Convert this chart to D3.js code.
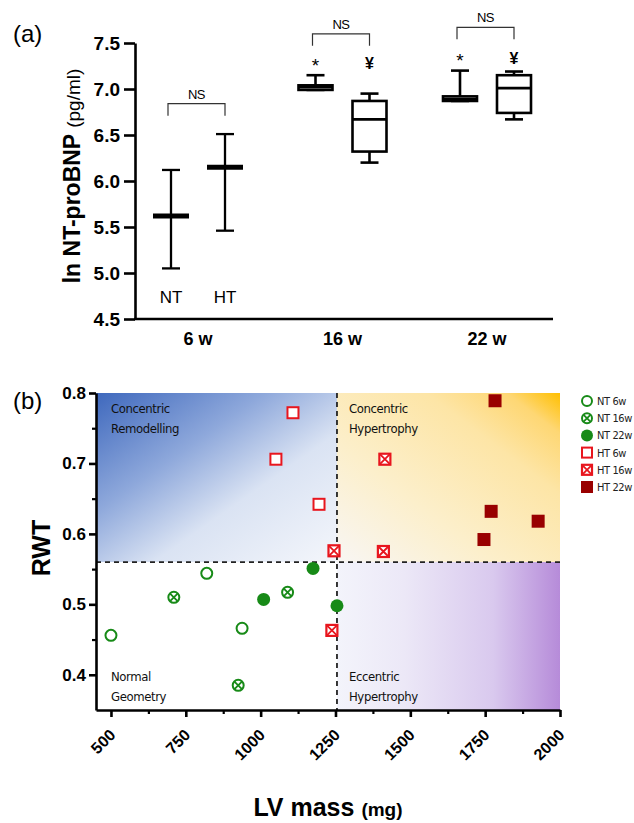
<!DOCTYPE html>
<html>
<head>
<meta charset="utf-8">
<script src="https://cdn.jsdelivr.net/npm/d3@7"></script>
<style>
  body { margin: 0; background: #fff; }
  text { font-family: "Liberation Sans", Arial, sans-serif; }
  .narrow { font-family: "Liberation Sans Narrow", "DejaVu Sans Condensed", "Liberation Sans", sans-serif; letter-spacing: -0.4px; }
</style>
</head>
<body>
<script>
// ---------- panel (a) data ----------
var weeks = ["6 w", "16 w", "22 w"];
// NT group (6 w is mean with range, the others are box plots)
var ntMin = [5.05, 6.99, 6.87];
var ntQ1  = [null, 6.99, 6.87];
var ntMid = [5.62, 7.02, 6.89];
var ntQ3  = [null, 7.04, 6.92];
var ntMax = [6.12, 7.15, 7.20];
// HT group
var htMin = [5.46, 6.20, 6.67];
var htQ1  = [null, 6.32, 6.74];
var htMid = [6.15, 6.67, 7.01];
var htQ3  = [null, 6.87, 7.15];
var htMax = [6.51, 6.95, 7.19];
var ntSig = ["", "*", "*"];
var htSig = ["", "\u00a5", "\u00a5"];
var sigLevel = [null, 7.29, 7.35];
var nsLevel = [6.84, 7.60, 7.67];
var yTicksA = [4.5, 5.0, 5.5, 6.0, 6.5, 7.0, 7.5];

// ---------- panel (b) data ----------
var seriesNames = ["NT 6w", "NT 16w", "NT 22w", "HT 6w", "HT 16w", "HT 22w"];
var nt6Mass  = [500, 820, 938];
var nt6Rwt   = [0.456, 0.544, 0.466];
var nt16Mass = [710, 1090, 925];
var nt16Rwt  = [0.510, 0.517, 0.385];
var nt22Mass = [1010, 1175, 1255];
var nt22Rwt  = [0.507, 0.551, 0.498];
var ht6Mass  = [1108, 1051, 1195];
var ht6Rwt   = [0.772, 0.706, 0.642];
var ht16Mass = [1245, 1410, 1415, 1238];
var ht16Rwt  = [0.576, 0.575, 0.706, 0.463];
var ht22Mass = [1783, 1770, 1927, 1746];
var ht22Rwt  = [0.789, 0.632, 0.618, 0.592];
var massCut = 1255;
var rwtCut = 0.56;
var xTicksB = [500, 750, 1000, 1250, 1500, 1750, 2000];
var xMinorB = [625, 875, 1125, 1375, 1625, 1875];
var yTicksB = [0.4, 0.5, 0.6, 0.7, 0.8];
var yMinorB = [0.45, 0.55, 0.65, 0.75];

var green = "#178a17", red = "#e8161e", darkRed = "#990000";

var svg = d3.select("body").append("svg")
  .attr("width", 634)
  .attr("height", 823);

// ================= panel (a) =================
var gA = svg.append("g");
var yA = d3.scaleLinear().domain([4.5, 7.5]).range([319, 43]);
var xA = d3.scalePoint().domain(weeks).range([198, 487]);
var sub = d3.scaleOrdinal().domain(["NT", "HT"]).range([-27, 27]);

gA.append("text").attr("x", 13).attr("y", 42)
  .style("font-size", "24px").text("(a)");

var axA = gA.append("g")
  .attr("transform", "translate(135,0)")
  .call(d3.axisLeft(yA).tickValues(yTicksA).tickFormat(d3.format(".1f")).tickSize(11).tickSizeOuter(0));
axA.select(".domain").attr("stroke-width", 2.6);
axA.selectAll(".tick line").attr("stroke-width", 2.6);
axA.selectAll(".tick text").attr("x", -15)
  .style("font-size", "19px").style("font-weight", "bold").style("font-family", "'Liberation Sans', Arial, sans-serif");

gA.append("line")
  .attr("x1", 134).attr("x2", 553)
  .attr("y1", yA(4.5)).attr("y2", yA(4.5))
  .attr("stroke", "#000").attr("stroke-width", 2.6);

gA.selectAll(".wk").data(weeks).enter().append("text")
  .attr("x", d => xA(d)).attr("y", 345)
  .attr("text-anchor", "middle")
  .style("font-size", "18px").style("font-weight", "bold")
  .text(d => d);

gA.append("text")
  .attr("transform", "translate(80,176) rotate(-90)")
  .attr("text-anchor", "middle")
  .call(t => {
    t.append("tspan").style("font-size", "23px").style("font-weight", "bold").text("ln NT-proBNP ");
    t.append("tspan").style("font-size", "19px").text("(pg/ml)");
  });

function drawGroup(name, mins, q1s, mids, q3s, maxs) {
  weeks.forEach(function (w, i) {
    var cx = xA(w) + sub(name);
    var g = gA.append("g").attr("stroke", "#000").attr("fill", "none");
    if (q1s[i] === null) {
      // mean with range bars
      g.append("line").attr("x1", cx).attr("x2", cx).attr("y1", yA(mins[i])).attr("y2", yA(maxs[i])).attr("stroke-width", 2.3);
      g.append("line").attr("x1", cx - 9).attr("x2", cx + 9).attr("y1", yA(mins[i])).attr("y2", yA(mins[i])).attr("stroke-width", 2.3);
      g.append("line").attr("x1", cx - 9).attr("x2", cx + 9).attr("y1", yA(maxs[i])).attr("y2", yA(maxs[i])).attr("stroke-width", 2.3);
      g.append("line").attr("x1", cx - 18).attr("x2", cx + 18).attr("y1", yA(mids[i])).attr("y2", yA(mids[i])).attr("stroke-width", 5);
    } else {
      var hw = 17;
      g.append("line").attr("x1", cx).attr("x2", cx).attr("y1", yA(maxs[i])).attr("y2", yA(q3s[i])).attr("stroke-width", 2.6);
      g.append("line").attr("x1", cx).attr("x2", cx).attr("y1", yA(q1s[i])).attr("y2", yA(mins[i])).attr("stroke-width", 2.6);
      g.append("line").attr("x1", cx - 9).attr("x2", cx + 9).attr("y1", yA(maxs[i])).attr("y2", yA(maxs[i])).attr("stroke-width", 2.6);
      g.append("line").attr("x1", cx - 9).attr("x2", cx + 9).attr("y1", yA(mins[i])).attr("y2", yA(mins[i])).attr("stroke-width", 2.6);
      g.append("rect").attr("x", cx - hw).attr("width", hw * 2)
        .attr("y", yA(q3s[i])).attr("height", Math.max(yA(q1s[i]) - yA(q3s[i]), 0.5))
        .attr("stroke-width", 2.6).attr("fill", "#fff");
      g.append("line").attr("x1", cx - hw).attr("x2", cx + hw).attr("y1", yA(mids[i])).attr("y2", yA(mids[i])).attr("stroke-width", 2.6);
    }
  });
}
drawGroup("NT", ntMin, ntQ1, ntMid, ntQ3, ntMax);
drawGroup("HT", htMin, htQ1, htMid, htQ3, htMax);

// group letters under 6 w
["NT", "HT"].forEach(function (n) {
  gA.append("text").attr("x", xA(weeks[0]) + sub(n)).attr("y", 303)
    .attr("text-anchor", "middle").style("font-size", "17px").text(n);
});

// significance marks
weeks.forEach(function (w, i) {
  if (sigLevel[i] !== null) {
    gA.append("text").attr("x", xA(w) + sub("NT")).attr("y", yA(sigLevel[i]) + 10)
      .attr("text-anchor", "middle").style("font-size", "19px").text(ntSig[i]);
    gA.append("text").attr("x", xA(w) + sub("HT")).attr("y", yA(sigLevel[i]) + 7)
      .attr("text-anchor", "middle").style("font-size", "16px").style("font-weight", "bold").text(htSig[i]);
  }
  var by = yA(nsLevel[i]);
  var x0 = xA(w) + sub("NT") - 3, x1 = xA(w) + sub("HT");
  gA.append("path")
    .attr("d", "M" + x0 + "," + (by + 12) + "V" + by + "H" + x1 + "V" + (by + 12))
    .attr("fill", "none").attr("stroke", "#333").attr("stroke-width", 1.2);
  gA.append("text").attr("x", (x0 + x1) / 2).attr("y", by - 5)
    .attr("text-anchor", "middle").style("font-size", "13px").style("letter-spacing", "-0.5px").text("NS");
});

// ================= panel (b) =================
var gB = svg.append("g");
var xB = d3.scaleLinear().domain([450, 2000]).range([96, 560]);
var yB = d3.scaleLinear().domain([0.35, 0.8]).range([710, 393]);

var defs = svg.append("defs");
function grad(id, x1, y1, x2, y2, stops) {
  var lg = defs.append("linearGradient").attr("id", id)
    .attr("x1", x1).attr("y1", y1).attr("x2", x2).attr("y2", y2);
  stops.forEach(s => lg.append("stop").attr("offset", s[0]).attr("stop-color", s[1]));
}
grad("gBlue", 0, 0, 1, 1, [[0, "#3e68bd"], [0.35, "#8ea8db"], [0.62, "#dae3f3"], [1, "#f4f6fb"]]);
grad("gGold", 0, 1, 1, 0, [[0, "#f8f6f4"], [0.35, "#fcefcb"], [0.7, "#fde5a6"], [0.88, "#fed774"], [1, "#ffbf00"]]);
grad("gPurple", 0, 0, 1, 0, [[0, "#f3f4fb"], [0.3, "#ece8f7"], [0.7, "#d9c9ee"], [1, "#b68bd9"]]);

gB.append("rect").attr("x", xB(450)).attr("y", yB(0.8))
  .attr("width", xB(massCut) - xB(450)).attr("height", yB(rwtCut) - yB(0.8)).attr("fill", "url(#gBlue)");
gB.append("rect").attr("x", xB(massCut)).attr("y", yB(0.8))
  .attr("width", xB(2000) - xB(massCut)).attr("height", yB(rwtCut) - yB(0.8)).attr("fill", "url(#gGold)");
gB.append("rect").attr("x", xB(massCut)).attr("y", yB(rwtCut))
  .attr("width", xB(2000) - xB(massCut)).attr("height", yB(0.35) - yB(rwtCut)).attr("fill", "url(#gPurple)");

gB.append("line").attr("x1", xB(450)).attr("x2", xB(2000)).attr("y1", yB(rwtCut)).attr("y2", yB(rwtCut))
  .attr("stroke", "#222").attr("stroke-width", 1.8).attr("stroke-dasharray", "5,4");
gB.append("line").attr("x1", xB(massCut)).attr("x2", xB(massCut)).attr("y1", yB(0.8)).attr("y2", yB(0.35))
  .attr("stroke", "#222").attr("stroke-width", 1.8).attr("stroke-dasharray", "5,4");

var quadLabels = [
  ["Concentric", "Remodelling", 460, 0.8],
  ["Concentric", "Hypertrophy", massCut, 0.8],
  ["Normal", "Geometry", 460, 0.42],
  ["Eccentric", "Hypertrophy", massCut, 0.42]
];
quadLabels.forEach(function (q) {
  var t = gB.append("text").attr("class", "narrow")
    .attr("x", xB(q[2]) + 12).attr("y", yB(q[3]) + 20)
    .style("font-size", "13px").style("fill", "#111");
  t.append("tspan").text(q[0]);
  t.append("tspan").attr("x", xB(q[2]) + 12).attr("dy", 20).text(q[1]);
});

var axYB = gB.append("g").attr("transform", "translate(96,0)")
  .call(d3.axisLeft(yB).tickValues(yTicksB).tickFormat(d3.format(".1f")).tickSize(7).tickSizeOuter(0));
gB.append("g").attr("transform", "translate(96,0)")
  .call(d3.axisLeft(yB).tickValues(yMinorB).tickFormat("").tickSize(4).tickSizeOuter(0))
  .call(g => g.select(".domain").remove())
  .selectAll("line").attr("stroke-width", 2.2);
axYB.select(".domain").attr("stroke-width", 2.6);
axYB.selectAll(".tick line").attr("stroke-width", 2.6);
axYB.selectAll(".tick text").attr("x", -10)
  .style("font-size", "17px").style("font-weight", "bold").style("font-family", "'Liberation Sans', Arial, sans-serif");

var axXB = gB.append("g").attr("transform", "translate(0,710)")
  .call(d3.axisBottom(xB).tickValues(xTicksB).tickFormat(d3.format("d")).tickSize(7).tickSizeOuter(0));
gB.append("g").attr("transform", "translate(0,710)")
  .call(d3.axisBottom(xB).tickValues(xMinorB).tickFormat("").tickSize(4).tickSizeOuter(0))
  .call(g => g.select(".domain").remove())
  .selectAll("line").attr("stroke-width", 2.2);
axXB.select(".domain").attr("stroke-width", 2.6);
axXB.selectAll(".tick line").attr("stroke-width", 2.6);
axXB.selectAll(".tick text")
  .attr("y", null).attr("dy", null)
  .attr("text-anchor", "end")
  .attr("transform", "translate(5,26) rotate(-45)")
  .style("font-size", "16px").style("font-weight", "bold").style("font-family", "'Liberation Sans', Arial, sans-serif");

gB.append("text").attr("x", 13).attr("y", 409).style("font-size", "24px").text("(b)");
gB.append("text").attr("transform", "translate(50,548) rotate(-90)")
  .attr("text-anchor", "middle").style("font-size", "25px").style("font-weight", "bold").text("RWT");
gB.append("text").attr("x", 328).attr("y", 816).attr("text-anchor", "middle")
  .call(t => {
    t.append("tspan").style("font-size", "25px").style("font-weight", "bold").text("LV mass ");
    t.append("tspan").style("font-size", "19px").style("font-weight", "bold").text("(mg)");
  });

// markers
function marker(g, type, s) {
  var r = s / 2;
  if (type === "circle") {
    g.append("circle").attr("r", r - 1).attr("fill", "#fff").attr("stroke", green).attr("stroke-width", 2);
  } else if (type === "circleX") {
    g.append("circle").attr("r", r - 1).attr("fill", "#fff").attr("stroke", green).attr("stroke-width", 2);
    var k = (r - 1) * 0.68;
    g.append("path").attr("d", "M" + -k + "," + -k + "L" + k + "," + k + "M" + k + "," + -k + "L" + -k + "," + k)
      .attr("stroke", green).attr("stroke-width", 1.8);
  } else if (type === "dot") {
    g.append("circle").attr("r", r).attr("fill", green);
  } else if (type === "square") {
    g.append("rect").attr("x", -r + 1).attr("y", -r + 1).attr("width", s - 2).attr("height", s - 2)
      .attr("fill", "#fff").attr("stroke", red).attr("stroke-width", 2);
  } else if (type === "squareX") {
    g.append("rect").attr("x", -r + 1).attr("y", -r + 1).attr("width", s - 2).attr("height", s - 2)
      .attr("fill", "#fff").attr("stroke", red).attr("stroke-width", 2.2);
    var q = r - 1;
    g.append("path").attr("d", "M" + -q + "," + -q + "L" + q + "," + q + "M" + q + "," + -q + "L" + -q + "," + q)
      .attr("stroke", red).attr("stroke-width", 1.8);
  } else {
    g.append("rect").attr("x", -r).attr("y", -r).attr("width", s).attr("height", s).attr("fill", darkRed);
  }
}

var series = [
  { type: "circle", mass: nt6Mass, rwt: nt6Rwt },
  { type: "circleX", mass: nt16Mass, rwt: nt16Rwt },
  { type: "dot", mass: nt22Mass, rwt: nt22Rwt },
  { type: "square", mass: ht6Mass, rwt: ht6Rwt },
  { type: "squareX", mass: ht16Mass, rwt: ht16Rwt },
  { type: "block", mass: ht22Mass, rwt: ht22Rwt }
];

series.forEach(function (s) {
  s.mass.forEach(function (m, i) {
    var g = gB.append("g").attr("transform", "translate(" + xB(m) + "," + yB(s.rwt[i]) + ")");
    marker(g, s.type, 13);
  });
});

// legend
var legend = svg.append("g").attr("transform", "translate(587,401)");
seriesNames.forEach(function (n, i) {
  var g = legend.append("g").attr("transform", "translate(0," + i * 17.2 + ")");
  marker(g, series[i].type, 12);
  g.append("text").attr("class", "narrow").attr("x", 10).attr("y", 4)
    .style("font-size", "11px").style("fill", "#222").text(n);
});
</script>
</body>
</html>
